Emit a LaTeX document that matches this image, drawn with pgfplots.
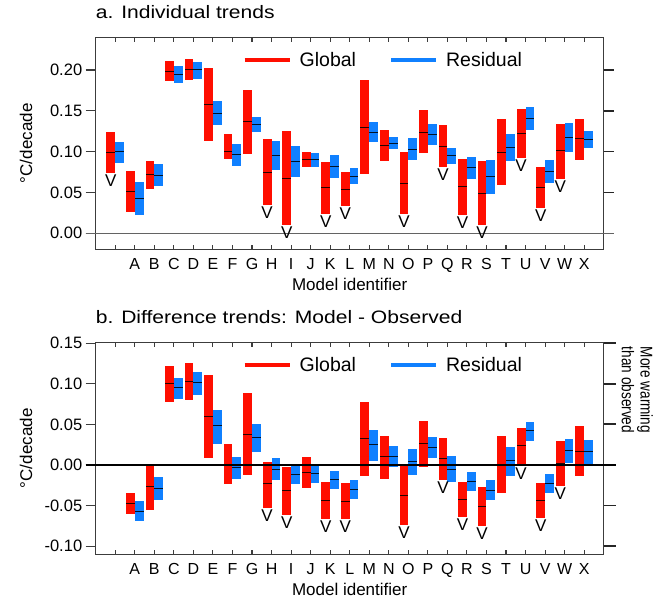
\documentclass[border=0pt]{standalone}
\usepackage{fontspec}
\setmainfont{Liberation Sans}
\newfontfamily\titlefont[FakeStretch=1.17]{Liberation Sans}
\newfontfamily\narrowfont[FakeStretch=0.8]{Liberation Sans}
\usepackage{pgfplots}
\usepackage{pgfplotstable}
\pgfplotsset{compat=1.18}
\definecolor{gred}{RGB}{255,14,0}
\definecolor{rblue}{RGB}{16,128,255}
\definecolor{axgray}{RGB}{60,60,60}

% x rlo rmid rhi (Global) blo bmid bhi (Residual) lab (V marker)
\pgfplotstableread{
x rlo rmid rhi blo bmid bhi lab
0 0.074 0.099 0.124 0.086 0.100 0.112 V
1 0.026 0.051 0.076 0.022 0.043 0.063 {}
2 0.054 0.072 0.088 0.058 0.071 0.085 {}
3 0.186 0.198 0.211 0.184 0.194 0.205 {}
4 0.188 0.201 0.213 0.189 0.200 0.210 {}
5 0.113 0.158 0.202 0.133 0.147 0.162 {}
6 0.091 0.100 0.121 0.083 0.096 0.109 {}
7 0.097 0.137 0.175 0.124 0.133 0.142 {}
8 0.035 0.075 0.115 0.078 0.095 0.113 V
9 0.010 0.067 0.125 0.069 0.088 0.107 V
10 0.081 0.090 0.099 0.081 0.090 0.098 {}
11 0.024 0.056 0.087 0.068 0.082 0.096 V
12 0.034 0.054 0.075 0.060 0.070 0.080 V
13 0.072 0.130 0.188 0.112 0.124 0.136 {}
14 0.089 0.108 0.126 0.103 0.110 0.118 {}
15 0.024 0.061 0.099 0.090 0.103 0.117 V
16 0.098 0.124 0.151 0.108 0.121 0.134 {}
17 0.081 0.106 0.133 0.085 0.095 0.104 V
18 0.023 0.057 0.091 0.067 0.080 0.093 V
19 0.010 0.049 0.088 0.048 0.069 0.090 V
20 0.059 0.099 0.140 0.089 0.105 0.121 {}
21 0.092 0.122 0.152 0.126 0.141 0.155 V
22 0.031 0.056 0.081 0.062 0.076 0.090 V
23 0.066 0.101 0.134 0.100 0.117 0.135 V
24 0.090 0.116 0.140 0.104 0.115 0.125 {}
}\tabA

\pgfplotstableread{
x rlo rmid rhi blo bmid bhi lab
1 -0.060 -0.048 -0.035 -0.069 -0.057 -0.044 {}
2 -0.056 -0.027 0.000 -0.043 -0.029 -0.015 {}
3 0.077 0.100 0.122 0.081 0.095 0.107 {}
4 0.080 0.103 0.126 0.086 0.101 0.114 {}
5 0.009 0.060 0.111 0.026 0.048 0.068 {}
6 -0.024 0.000 0.026 -0.017 -0.003 0.010 {}
7 -0.012 0.038 0.088 0.016 0.034 0.051 {}
8 -0.053 -0.023 0.004 -0.018 -0.005 0.009 V
9 -0.061 -0.031 -0.003 -0.024 -0.012 0.000 V
10 -0.028 -0.009 0.010 -0.022 -0.010 0.000 {}
11 -0.067 -0.044 -0.021 -0.029 -0.018 -0.007 V
12 -0.067 -0.045 -0.022 -0.042 -0.030 -0.019 V
13 -0.013 0.033 0.078 0.005 0.025 0.043 {}
14 -0.017 0.010 0.036 -0.003 0.011 0.023 {}
15 -0.074 -0.038 0.000 -0.012 0.004 0.020 V
16 -0.002 0.026 0.054 0.009 0.022 0.035 {}
17 -0.018 0.008 0.033 -0.021 -0.005 0.011 V
18 -0.064 -0.042 -0.021 -0.032 -0.020 -0.009 V
19 -0.075 -0.051 -0.027 -0.043 -0.031 -0.019 V
20 -0.035 0.000 0.036 -0.013 0.005 0.022 {}
21 -0.001 0.024 0.046 0.029 0.042 0.053 V
22 -0.065 -0.044 -0.022 -0.035 -0.023 -0.011 V
23 -0.026 0.002 0.030 0.003 0.018 0.032 V
24 -0.014 0.017 0.048 0.000 0.016 0.031 {}
}\tabB

\pgfplotsset{
  base/.style={scale only axis, width=508bp, height=212bp,
    xmin=-1, xmax=25, clip=false,
    axis line style={axgray, line width=1.2bp},
    tick style={axgray, line width=1.1bp}},
  xaxisstyle/.style={base, ytick=\empty,
    xtick={0,...,24},
    xticklabels={{},A,B,C,D,E,F,G,H,I,J,K,L,M,N,O,P,Q,R,S,T,U,V,W,X},
    xticklabel pos=lower, xtick pos=both,
    tick align=inside, major tick length=4.5bp,
    xticklabel style={yshift=-5.5bp, font=\fontsize{16bp}{19bp}\selectfont},
    xlabel={Model identifier},
    xlabel style={at={(axis description cs:0.5,0)}, anchor=base, yshift=-41bp,
      font=\fontsize{17bp}{20bp}\selectfont},
    ylabel={°C/decade},
    ylabel style={at={(axis description cs:-0.1372,0.5)}, anchor=center,
      font=\fontsize{17bp}{20bp}\selectfont},
    title style={at={(axis description cs:0,1)}, anchor=base west, yshift=12.5bp,
      inner sep=0pt, font={\fontsize{18bp}{21bp}\titlefont}},
    legend columns=2,
    legend style={draw=none, fill=none, inner sep=0pt,
      at={(axis description cs:0.289,0.893)}, anchor=west,
      font=\fontsize{19.5bp}{22bp}\selectfont,
      nodes={inner xsep=8bp, inner ysep=2bp},
      /tikz/every even column/.append style={column sep=25bp}},
    legend image code/.code={\draw[##1, line width=4bp, line cap=butt] (0bp,0bp) -- (45bp,0bp);}},
  yaxisstyle/.style={base, xtick=\empty,
    yticklabel pos=left, ytick pos=left,
    tick align=outside, major tick length=10bp,
    yticklabel style={font=\fontsize{16.5bp}{19bp}\selectfont,
      /pgf/number format/.cd, fixed, fixed zerofill, precision=2, assume math mode=true}},
  gbar/.style={forget plot, draw=none, mark=none, error bars/.cd, y dir=both, y explicit,
    error bar style={line width=8.8bp, color=gred, line cap=butt}, error mark=none},
  rbar/.style={forget plot, draw=none, mark=none, error bars/.cd, y dir=both, y explicit,
    error bar style={line width=8.8bp, color=rblue, line cap=butt}, error mark=none},
  medline/.style={forget plot, draw=none, mark=none, error bars/.cd, x dir=both, x fixed=0.225,
    error bar style={line width=1bp, color=black, opacity=0.85, line cap=butt}, error mark=none},
  vmark/.style={forget plot, draw=none, mark=none, point meta=explicit symbolic,
    nodes near coords, nodes near coords align={below},
    every node near coord/.append style={inner sep=1.6bp, text=black,
      font=\fontsize{17bp}{20bp}\selectfont}}
}

\begin{document}
\begin{tikzpicture}
\path[use as bounding box] (0bp,0bp) rectangle (660bp,-599bp);

% ---------------- Panel a ----------------
\begin{axis}[yaxisstyle, at={(95.7bp,-37.3bp)}, anchor=north west,
  ymin=-0.0196, ymax=0.240, ytick={0,0.05,0.1,0.15,0.2}]
\end{axis}
\begin{axis}[xaxisstyle, at={(95.7bp,-37.3bp)}, anchor=north west,
  ymin=-0.0196, ymax=0.240, title={a. Individual trends}]
\addplot[forget plot, color=axgray!80, line width=1.2bp] coordinates {(-1.52,0) (25.52,0)};
\pgfplotsinvokeforeach{0.05,0.1,0.15,0.2}{
  \draw[black!85, line width=1.5bp] (axis cs:25,#1) -- ++(10bp,0bp);
}
\addplot[gbar] table[x expr=\thisrow{x}-0.225, y=rmid,
  y error plus expr=\thisrow{rhi}-\thisrow{rmid}, y error minus expr=\thisrow{rmid}-\thisrow{rlo}] {\tabA};
\addplot[rbar] table[x expr=\thisrow{x}+0.225, y=bmid,
  y error plus expr=\thisrow{bhi}-\thisrow{bmid}, y error minus expr=\thisrow{bmid}-\thisrow{blo}] {\tabA};
\addplot[medline] table[x expr=\thisrow{x}-0.225, y=rmid] {\tabA};
\addplot[medline] table[x expr=\thisrow{x}+0.225, y=bmid] {\tabA};
\addplot[vmark] table[x expr=\thisrow{x}-0.225, y=rlo, meta=lab] {\tabA};
\addlegendimage{gred}
\addlegendentry{Global}
\addlegendimage{rblue}
\addlegendentry{Residual}
\end{axis}

% ---------------- Panel b ----------------
\begin{axis}[yaxisstyle, at={(95.7bp,-342.3bp)}, anchor=north west,
  ymin=-0.110, ymax=0.151, ytick={-0.1,-0.05,0,0.05,0.1,0.15}]
\end{axis}
\begin{axis}[xaxisstyle, at={(95.7bp,-342.3bp)}, anchor=north west,
  ymin=-0.110, ymax=0.151, title={b. Difference trends: Model - Observed}]
\pgfplotsinvokeforeach{-0.1,-0.05,0.05,0.1,0.15}{
  \draw[black!85, line width=1.8bp] (axis cs:25,#1) -- ++(12bp,0bp);
}
\addplot[gbar] table[x expr=\thisrow{x}-0.225, y=rmid,
  y error plus expr=\thisrow{rhi}-\thisrow{rmid}, y error minus expr=\thisrow{rmid}-\thisrow{rlo}] {\tabB};
\addplot[rbar] table[x expr=\thisrow{x}+0.225, y=bmid,
  y error plus expr=\thisrow{bhi}-\thisrow{bmid}, y error minus expr=\thisrow{bmid}-\thisrow{blo}] {\tabB};
\addplot[medline] table[x expr=\thisrow{x}-0.225, y=rmid] {\tabB};
\addplot[medline] table[x expr=\thisrow{x}+0.225, y=bmid] {\tabB};
\addplot[vmark] table[x expr=\thisrow{x}-0.225, y=rlo, meta=lab] {\tabB};
\addplot[forget plot, black, line width=2.6bp] coordinates {(-1.52,0) (25.62,0)};
\addlegendimage{gred}
\addlegendentry{Global}
\addlegendimage{rblue}
\addlegendentry{Residual}
\node[rotate=-90, align=left, anchor=center, inner sep=0pt,
  font=\fontsize{17bp}{18.7bp}\narrowfont] at (axis description cs:1.066,0.775)
  {More warming\\than observed};
\end{axis}
\end{tikzpicture}
\end{document}
